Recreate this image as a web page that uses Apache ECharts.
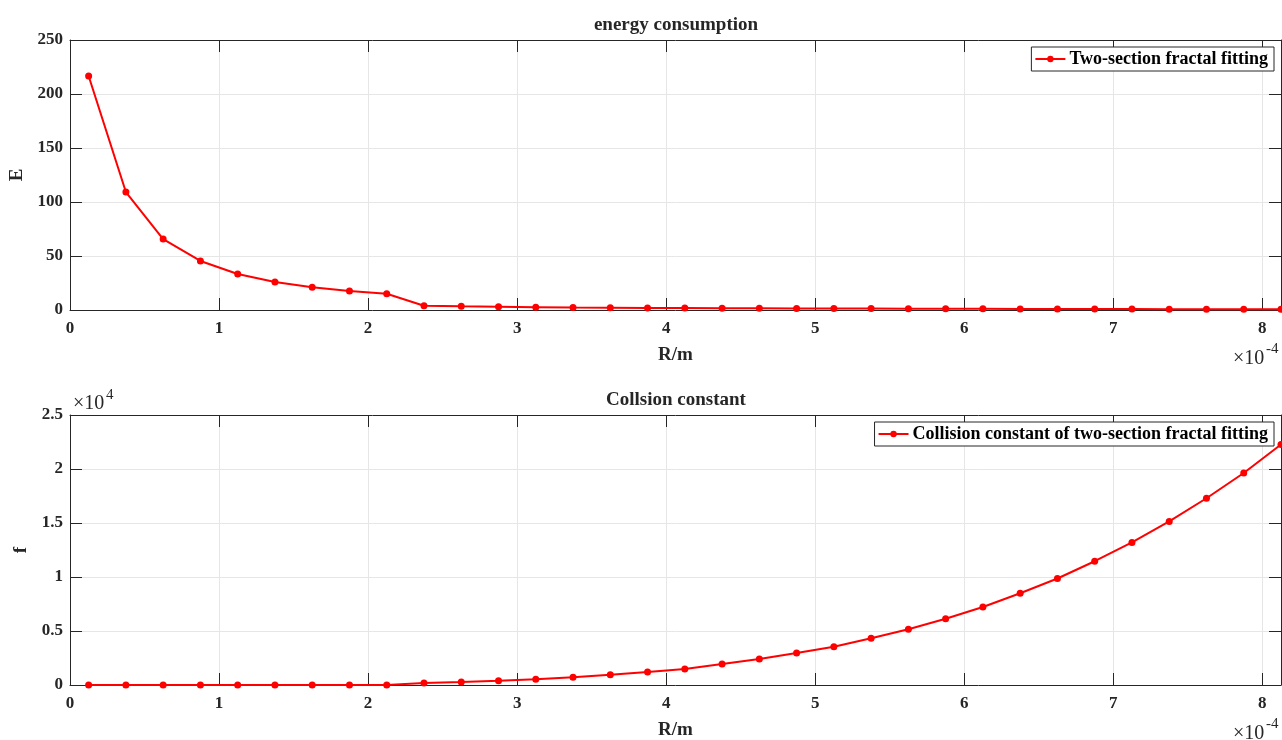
<!DOCTYPE html>
<html>
<head>
<meta charset="utf-8">
<script src="https://cdn.jsdelivr.net/npm/echarts@6/dist/echarts.min.js"></script>
<style>
  html, body { margin: 0; padding: 0; background: #fff; }
  #container { width: 1282px; height: 740px; }
</style>
</head>
<body>
<div id="container"></div>
<script>
// R in units of 1e-4 m
var rValues = [0.125, 0.375, 0.625, 0.875, 1.125, 1.375, 1.625, 1.875, 2.125, 2.375, 2.625,
  2.875, 3.125, 3.375, 3.625, 3.875, 4.125, 4.375, 4.625, 4.875, 5.125, 5.375, 5.625,
  5.875, 6.125, 6.375, 6.625, 6.875, 7.125, 7.375, 7.625, 7.875, 8.125];
var energy = [216.7, 109.2, 65.7, 45.4, 33.3, 25.9, 21.1, 17.6, 15.0, 4.0, 3.4,
  3.0, 2.6, 2.3, 2.1, 1.9, 1.8, 1.7, 1.6, 1.5, 1.4, 1.3, 1.2,
  1.15, 1.1, 1.0, 0.95, 0.9, 0.85, 0.8, 0.78, 0.75, 0.72];
var collision = [0, 0, 0, 0, 0, 0, 0, 0, 0, 185, 280,
  400, 525, 710, 940, 1200, 1490, 1944, 2400, 2960, 3540, 4330, 5170,
  6130, 7220, 8500, 9860, 11460, 13200, 15150, 17290, 19630, 22270];
var xTicks = [0, 1, 2, 3, 4, 5, 6, 7, 8];
var energyTicks = [0, 50, 100, 150, 200, 250];
var collisionTicks = [0, 0.5, 1, 1.5, 2, 2.5]; // x 1e4

var FONT = 'Liberation Serif';
var ink = '#262626';
var red = '#ff0000';

function pairs(ys) {
  return rValues.map(function (x, i) { return [x, ys[i]]; });
}

function mainX(gi) {
  return {
    type: 'value', gridIndex: gi, min: 0, max: 8.125, interval: 1,
    name: 'R/m', nameLocation: 'middle', nameGap: 36,
    nameTextStyle: { fontFamily: FONT, fontWeight: 'bold', fontSize: 19, color: ink },
    axisLine: { onZero: false, lineStyle: { color: ink, width: 1 } },
    axisTick: { inside: true, length: 12, lineStyle: { color: ink } },
    axisLabel: {
      margin: 10, fontFamily: FONT, fontWeight: 'bold', fontSize: 17, color: ink,
      formatter: function (v) { return xTicks.indexOf(v) >= 0 ? String(v) : ''; }
    },
    splitLine: { show: true, lineStyle: { color: '#e6e6e6', width: 1 } }
  };
}
function mirrorX(gi) {
  return {
    type: 'value', gridIndex: gi, position: 'top', min: 0, max: 8.125, interval: 1,
    axisLine: { onZero: false, lineStyle: { color: ink, width: 1 } },
    axisTick: { inside: true, length: 12, lineStyle: { color: ink } },
    axisLabel: { show: false }, splitLine: { show: false }
  };
}
function mainY(gi, name, gap, max, interval, fmt) {
  return {
    type: 'value', gridIndex: gi, min: 0, max: max, interval: interval,
    name: name, nameLocation: 'middle', nameGap: gap, nameRotate: 90,
    nameTextStyle: { fontFamily: FONT, fontWeight: 'bold', fontSize: 19, color: ink },
    axisLine: { show: true, onZero: false, lineStyle: { color: ink, width: 1 } },
    axisTick: { show: true, inside: true, length: 12, lineStyle: { color: ink } },
    axisLabel: { margin: 7, fontFamily: FONT, fontWeight: 'bold', fontSize: 17, color: ink, formatter: fmt },
    splitLine: { show: true, lineStyle: { color: '#e6e6e6', width: 1 } }
  };
}
function mirrorY(gi, max, interval) {
  return {
    type: 'value', gridIndex: gi, position: 'right', min: 0, max: max, interval: interval,
    axisLine: { show: true, onZero: false, lineStyle: { color: ink, width: 1 } },
    axisTick: { show: true, inside: true, length: 12, lineStyle: { color: ink } },
    axisLabel: { show: false }, splitLine: { show: false }
  };
}

var legendBase = {
  right: 8, orient: 'vertical', itemWidth: 30, itemHeight: 8, itemGap: 0,
  padding: [3, 6, 3, 3], borderColor: ink, borderWidth: 1, backgroundColor: '#fff',
  textStyle: { fontFamily: FONT, fontWeight: 'bold', fontSize: 18, color: '#000', padding: [0, 0, 0, -1] }
};

function label(text, x, y, size, align) {
  return {
    type: 'text', x: x, y: y, z: 10,
    style: { text: text, fill: ink, font: 'bold ' + size + 'px "' + FONT + '"', textAlign: align || 'left', textVerticalAlign: 'middle' }
  };
}
function plain(text, x, y, size) {
  return {
    type: 'text', x: x, y: y, z: 10,
    style: { text: text, fill: ink, font: size + 'px "' + FONT + '"', textAlign: 'left', textVerticalAlign: 'middle' }
  };
}

var option = {
  animation: false,
  backgroundColor: '#fff',
  grid: [
    { left: 70, right: 1, top: 40, height: 270, outerBoundsMode: 'none', containLabel: false },
    { left: 70, right: 1, top: 415, height: 270, outerBoundsMode: 'none', containLabel: false }
  ],
  xAxis: [mainX(0), mirrorX(0), mainX(1), mirrorX(1)],
  yAxis: [
    mainY(0, 'E', 41, 250, 50, function (v) { return energyTicks.indexOf(v) >= 0 ? String(v) : ''; }),
    mirrorY(0, 250, 50),
    mainY(1, 'f', 35, 25000, 5000, function (v) {
      var t = v / 10000;
      return collisionTicks.indexOf(t) >= 0 ? String(t) : '';
    }),
    mirrorY(1, 25000, 5000)
  ],
  legend: [
    Object.assign({}, legendBase, { top: 47, data: ['Two-section fractal fitting'] }),
    Object.assign({}, legendBase, { top: 422, data: ['Collision constant of two-section fractal fitting'] })
  ],
  graphic: [
    label('energy consumption', 676, 25, 19, 'center'),
    label('Collsion constant', 676, 400, 19, 'center'),
    plain('\u00d710', 1233, 359, 20),
    plain('-4', 1266, 349, 15),
    plain('\u00d710', 1233, 734, 20),
    plain('-4', 1266, 724, 15),
    plain('\u00d710', 73, 404, 20),
    plain('4', 106, 395, 15)
  ],
  series: [
    {
      name: 'Two-section fractal fitting', type: 'line', xAxisIndex: 0, yAxisIndex: 0,
      data: pairs(energy), symbol: 'circle', symbolSize: 7, clip: false,
      lineStyle: { color: red, width: 2 }, itemStyle: { color: red }
    },
    {
      name: 'Collision constant of two-section fractal fitting', type: 'line', xAxisIndex: 2, yAxisIndex: 2,
      data: pairs(collision), symbol: 'circle', symbolSize: 7, clip: false,
      lineStyle: { color: red, width: 2 }, itemStyle: { color: red }
    }
  ]
};

var myChart = window.echarts.init(document.getElementById('container'), null, { renderer: 'canvas' });
myChart.setOption(option);
</script>
</body>
</html>
